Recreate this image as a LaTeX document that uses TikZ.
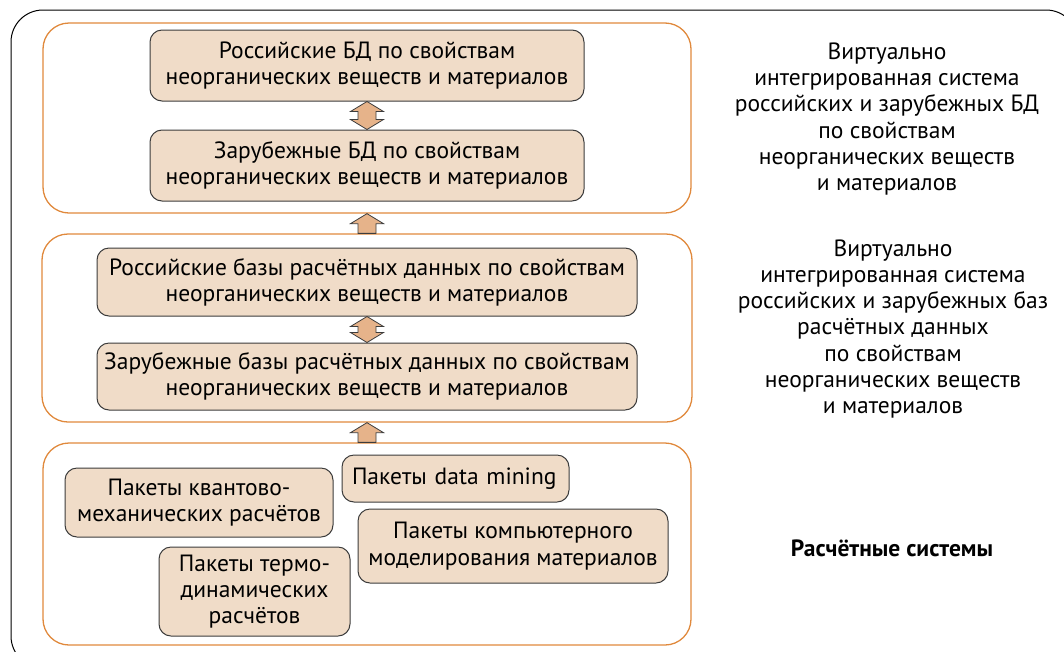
\documentclass[tikz,border=0pt]{standalone}
\usepackage{fontspec}
\setmainfont{PT Sans}
\usetikzlibrary{calc}

\definecolor{boxfill}{HTML}{F0DCC8}
\definecolor{arrowfill}{HTML}{E6B38A}
\definecolor{layerline}{HTML}{E0893C}
\definecolor{boxline}{HTML}{3C3C3C}

\newcommand{\boxfont}{\fontsize{23.5}{26.3}\selectfont}

% arrow shapes between named anchors
\newcommand{\liftarrow}[2]{%
  \draw[flowarrow] (#1) -- ++(16.5,10) -- ++(-7.5,0) -- ($(#2)+(9,0)$)
    -- ($(#2)+(-9,0)$) -- ($(#1)+(-9,10)$) -- ++(-7.5,0) -- cycle;}
\newcommand{\swaparrow}[2]{%
  \draw[flowarrow] (#1) -- ++(16.5,10) -- ++(-7.5,0) -- ($(#2)+(9,-10)$)
    -- ++(7.5,0) -- (#2) -- ++(-16.5,-10) -- ++(7.5,0)
    -- ($(#1)+(-9,10)$) -- ++(-7.5,0) -- cycle;}

\tikzset{
  layer/.style={draw=layerline, line width=1.3pt, rounded corners=26pt, inner sep=0pt},
  dbbox/.style={draw=boxline, fill=boxfill, line width=1pt, rounded corners=12pt,
    align=center, inner sep=0pt, font=\boxfont},
  flowarrow/.style={draw=boxline, fill=arrowfill, line width=0.8pt},
  sidelabel/.style={align=center, font=\boxfont},
}

\begin{document}
\begin{tikzpicture}[x=1pt, y=-1pt]
    \useasboundingbox (0,0) rectangle (1064,651);

    % Outer frame
    \begin{scope}
        \clip (0,0) rectangle (1064,651);
        \draw[black, line width=1pt, rounded corners=32pt] (11,10) rectangle (1078,668);
    \end{scope}

    % Layers
    \node[layer, minimum width=648pt, minimum height=190pt] (g1) at (367,118) {};
    \node[layer, minimum width=650pt, minimum height=188pt] (g2) at (367,328) {};
    \node[layer, minimum width=648pt, minimum height=202pt] (g3) at (367,544) {};

    % Databases
    \node[dbbox, minimum width=434pt, minimum height=71pt] (a1) at (367,65.5)
        {Российские БД по свойствам\\неорганических веществ и материалов};
    \node[dbbox, minimum width=434pt, minimum height=71pt] (a2) at (367,165.5)
        {Зарубежные БД по свойствам\\неорганических веществ и материалов};

    \node[dbbox, minimum width=540pt, minimum height=68pt] (b1) at (367,282)
        {Российские базы расчётных данных по свойствам\\неорганических веществ и материалов};
    \node[dbbox, minimum width=540pt, minimum height=67pt] (b2) at (367,376.5)
        {Зарубежные базы расчётных данных по свойствам\\неорганических веществ и материалов};

    % Packages
    \node[dbbox, minimum width=268pt, minimum height=69pt] (c1) at (199,502.5)
        {Пакеты квантово-\\механических расчётов};
    \node[dbbox, minimum height=47pt, text width=207pt, inner xsep=10pt, align=left] (c2) at (455.5,478.5)
        {Пакеты data\nobreak\ \mbox{mining}};
    \node[dbbox, minimum width=310pt, minimum height=74pt] (c3) at (513,546)
        {Пакеты компьютерного\\моделирования материалов};
    \node[dbbox, minimum width=191pt, minimum height=89pt] (c4) at (254.5,591.5)
        {Пакеты термо-\\динамических\\расчётов};

    % Arrows
    \swaparrow{a1.south}{a2.north}
    \liftarrow{g1.south}{g2.north}
    \swaparrow{b1.south}{b2.north}
    \liftarrow{g2.south}{g3.north}

    % Side labels
    \node[sidelabel] (l1) at (887,119) {Виртуально\\интегрированная система\\российских и зарубежных БД\\по свойствам\\неорганических веществ\\и материалов};
    \node[sidelabel] (l2) at (893,329) {Виртуально\\интегрированная система\\российских и зарубежных баз\\расчётных данных\\по свойствам\\неорганических веществ\\и материалов};
    \node[sidelabel, font=\boxfont\bfseries] (l3) at (892,548) {Расчётные системы};

\end{tikzpicture}
\end{document}
